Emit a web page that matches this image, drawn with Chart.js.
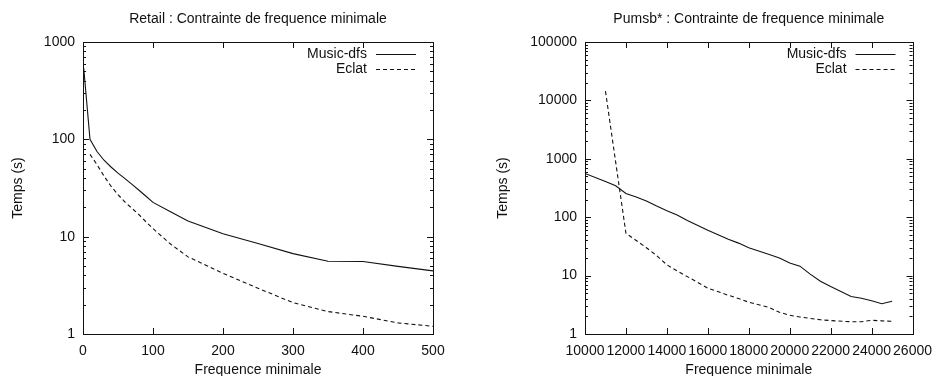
<!DOCTYPE html>
<html>
<head>
<meta charset="utf-8">
<script src="https://cdn.jsdelivr.net/npm/chart.js@4.4.1/dist/chart.umd.min.js"></script>
<style>
  body { margin: 0; background: #fff; }
  .wrap { display: flex; width: 941px; height: 376px; }
  canvas { display: block; }
</style>
</head>
<body>
<div class="wrap">
  <canvas id="retailChart" width="470" height="376"></canvas>
  <canvas id="pumsbChart" width="471" height="376"></canvas>
</div>
<script>
const seriesNames = ['Music-dfs', 'Eclat'];

const retailFreq = [1, 10, 20, 30, 40, 50, 60, 70, 80, 90, 100, 125, 150, 200, 250, 300, 350, 400, 450, 500];
const retailMusic = [540, 100, 75, 61, 52, 45, 39.5, 34.5, 30, 26, 22.5, 18, 14.5, 10.7, 8.5, 6.7, 5.6, 5.55, 4.95, 4.45];
const retailEclat = [null, 70, 55, 42, 33, 27, 22.7, 19.5, 16.8, 14.2, 12.1, 8.4, 6.2, 4.2, 2.95, 2.1, 1.7, 1.52, 1.3, 1.2];
const retailYTicks = [1, 10, 100, 1000];

const pumsbFreq = [10000, 11000, 11500, 12000, 12500, 13000, 13500, 14000, 14500, 15000, 16000, 17000, 17500, 18000, 19000, 19500, 20000, 20500, 21000, 21500, 22000, 23000, 23500, 24000, 24500, 25000];
const pumsbMusic = [560, 410, 345, 255, 222, 190, 155, 129, 109, 88, 60, 42, 36, 30, 23, 20, 16.5, 14.5, 10.6, 8.0, 6.5, 4.4, 4.1, 3.7, 3.3, 3.65];
const pumsbEclat = [null, 14400, 870, 53, 40, 30, 22, 15.3, 12, 9.6, 6.1, 4.6, 4.05, 3.5, 2.85, 2.35, 2.1, 1.95, 1.85, 1.75, 1.7, 1.62, 1.62, 1.72, 1.68, 1.65];
const pumsbYTicks = [1, 10, 100, 1000, 10000, 100000];

const FONT = "'Liberation Sans', Arial, sans-serif";
const INK = '#111';

const toPoints = (xs, ys) => xs.map((x, i) => ({ x: x, y: ys[i] }));

// frame, inward ticks, in-plot legend and title, gnuplot style
const gnuplotDeco = {
    id: 'gnuplotDeco',
    afterDatasetsDraw(chart, args, opts) {
        const ctx = chart.ctx;
        const a = chart.chartArea;
        const xs = chart.scales.x;
        const ys = chart.scales.y;
        ctx.save();
        ctx.strokeStyle = INK;
        ctx.lineWidth = 1;
        ctx.setLineDash([]);
        ctx.strokeRect(Math.round(a.left) + 0.5, Math.round(a.top) + 0.5, Math.round(a.right - a.left), Math.round(a.bottom - a.top));

        ctx.beginPath();
        xs.ticks.forEach(t => {
            const px = Math.round(xs.getPixelForValue(t.value)) + 0.5;
            ctx.moveTo(px, a.bottom); ctx.lineTo(px, a.bottom - 6);
            ctx.moveTo(px, a.top); ctx.lineTo(px, a.top + 6);
        });
        const yt = opts.yTicks;
        yt.forEach((v, i) => {
            const py = Math.round(ys.getPixelForValue(v)) + 0.5;
            ctx.moveTo(a.left, py); ctx.lineTo(a.left + 6, py);
            ctx.moveTo(a.right, py); ctx.lineTo(a.right - 6, py);
            if (i < yt.length - 1) {
                for (let m = 2; m <= 9; m++) {
                    const pm = Math.round(ys.getPixelForValue(v * m)) + 0.5;
                    ctx.moveTo(a.left, pm); ctx.lineTo(a.left + 3, pm);
                    ctx.moveTo(a.right, pm); ctx.lineTo(a.right - 3, pm);
                }
            }
        });
        ctx.stroke();

        // legend
        ctx.font = '14px ' + FONT;
        ctx.fillStyle = INK;
        ctx.textAlign = 'right';
        ctx.textBaseline = 'middle';
        chart.data.datasets.forEach((ds, i) => {
            const y = a.top + 11.5 + i * 15;
            ctx.fillText(ds.label, a.right - 66, y + 1);
            ctx.beginPath();
            ctx.setLineDash(ds.borderDash || []);
            ctx.moveTo(a.right - 57, Math.round(y) + 0.5);
            ctx.lineTo(a.right - 17, Math.round(y) + 0.5);
            ctx.stroke();
        });
        ctx.setLineDash([]);

        // title
        ctx.textAlign = 'center';
        ctx.fillText(opts.title, (a.left + a.right) / 2, 19);
        ctx.restore();
    }
};

const makeChart = (id, cfg) => {
    return new Chart(document.getElementById(id), {
        type: 'line',
        data: {
            datasets: [
                {
                    label: seriesNames[0],
                    data: toPoints(cfg.freq, cfg.music),
                    borderColor: INK,
                    borderWidth: 1.1,
                    pointRadius: 0,
                    tension: 0
                },
                {
                    label: seriesNames[1],
                    data: toPoints(cfg.freq, cfg.eclat),
                    borderColor: INK,
                    borderWidth: 1.1,
                    borderDash: [4, 3],
                    pointRadius: 0,
                    tension: 0
                }
            ]
        },
        options: {
            responsive: false,
            animation: false,
            layout: { padding: { top: 42, right: cfg.padRight, left: 0, bottom: 0 } },
            scales: {
                x: {
                    type: 'linear',
                    min: cfg.xMin,
                    max: cfg.xMax,
                    grid: { display: false, drawTicks: false },
                    border: { display: false },
                    ticks: {
                        stepSize: cfg.xStep,
                        autoSkip: false,
                        maxRotation: 0,
                        padding: 9,
                        color: INK,
                        font: { family: FONT, size: 14 },
                        callback: v => String(v)
                    },
                    title: {
                        display: true,
                        text: 'Frequence minimale',
                        color: INK,
                        font: { family: FONT, size: 14 },
                        padding: { top: -3, bottom: -3 }
                    },
                    afterFit: s => { s.height = 42; }
                },
                y: {
                    type: 'logarithmic',
                    min: 1,
                    max: cfg.yMax,
                    grid: { display: false, drawTicks: false },
                    border: { display: false },
                    afterBuildTicks: s => { s.ticks = cfg.yTicks.map(v => ({ value: v })); },
                    ticks: {
                        padding: 8,
                        color: INK,
                        font: { family: FONT, size: 14 },
                        callback: v => String(v)
                    },
                    title: {
                        display: true,
                        text: 'Temps (s)',
                        color: INK,
                        font: { family: FONT, size: 14 },
                        padding: { top: cfg.yTitlePad, bottom: 4 }
                    },
                    afterFit: s => { s.width = cfg.yWidth; }
                }
            },
            plugins: {
                legend: { display: false },
                title: { display: false },
                tooltip: { enabled: false },
                gnuplotDeco: { title: cfg.title, yTicks: cfg.yTicks }
            }
        },
        plugins: [gnuplotDeco]
    });
};

makeChart('retailChart', {
    title: 'Retail : Contrainte de frequence minimale',
    freq: retailFreq, music: retailMusic, eclat: retailEclat,
    xMin: 0, xMax: 500, xStep: 100,
    yMax: 1000, yTicks: retailYTicks,
    yWidth: 83, yTitlePad: 10, padRight: 37
});

makeChart('pumsbChart', {
    title: 'Pumsb* : Contrainte de frequence minimale',
    freq: pumsbFreq, music: pumsbMusic, eclat: pumsbEclat,
    xMin: 10000, xMax: 26000, xStep: 2000,
    yMax: 100000, yTicks: pumsbYTicks,
    yWidth: 115, yTitlePad: 25, padRight: 23
});
</script>
</body>
</html>
